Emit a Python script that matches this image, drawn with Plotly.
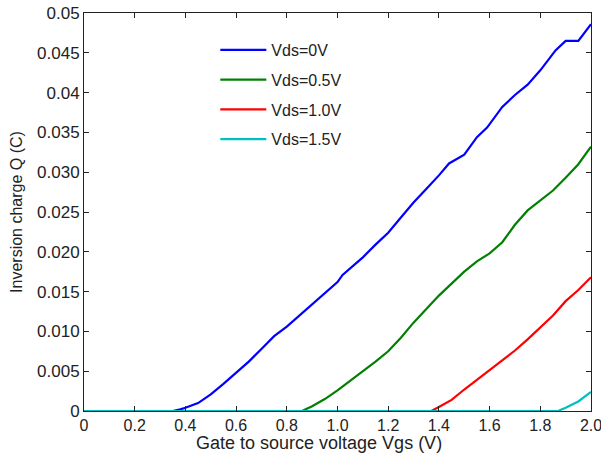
import plotly.graph_objects as go

# ---- data ----
x_blue = [0, 0.35, 0.38, 0.40, 0.45, 0.50, 0.55, 0.60, 0.65, 0.70, 0.75, 0.80, 0.85, 0.90, 0.95, 1.00,
          1.02, 1.05, 1.10, 1.15, 1.20, 1.25, 1.30, 1.35, 1.40, 1.44, 1.47, 1.50, 1.55, 1.59, 1.65,
          1.70, 1.75, 1.80, 1.86, 1.90, 1.95, 2.00]
q_blue = [0, 0, 0.0002, 0.0004, 0.0010, 0.0021, 0.0034, 0.0048, 0.0062, 0.0078, 0.0094, 0.0106, 0.0120,
          0.0133, 0.0147, 0.0162, 0.0171, 0.0179, 0.0193, 0.0209, 0.0224, 0.0243, 0.0262, 0.0279, 0.0296,
          0.0311, 0.0317, 0.0322, 0.0344, 0.0356, 0.0382, 0.0397, 0.0410, 0.0428, 0.0453, 0.0465, 0.0465,
          0.0486]

x_green = [0, 0.86, 0.90, 0.95, 1.00, 1.05, 1.10, 1.15, 1.20, 1.25, 1.30, 1.35, 1.40, 1.45, 1.50, 1.55,
           1.60, 1.65, 1.70, 1.75, 1.80, 1.85, 1.90, 1.95, 2.00]
q_green = [0, 0, 0.0006, 0.0015, 0.0026, 0.0038, 0.0049, 0.0062, 0.0075, 0.0092, 0.0111, 0.0128, 0.0145,
           0.0160, 0.0175, 0.0188, 0.0198, 0.0212, 0.0234, 0.0252, 0.0265, 0.0277, 0.0293, 0.0310, 0.0332]

x_red = [0, 1.37, 1.40, 1.45, 1.50, 1.55, 1.60, 1.65, 1.70, 1.75, 1.80, 1.85, 1.90, 1.95, 2.00]
q_red = [0, 0, 0.0005, 0.0014, 0.0027, 0.0039, 0.0051, 0.0063, 0.0076, 0.0090, 0.0105, 0.0120, 0.0138,
         0.0152, 0.0168]

x_cyan = [0, 1.87, 1.90, 1.95, 2.00]
q_cyan = [0, 0, 0.0004, 0.0012, 0.0024]

series = [
    ("Vds=0V", x_blue, q_blue, "#0000FF"),
    ("Vds=0.5V", x_green, q_green, "#008000"),
    ("Vds=1.0V", x_red, q_red, "#FF0000"),
    ("Vds=1.5V", x_cyan, q_cyan, "#00BFBF"),
]

x_ticks = [0, 0.2, 0.4, 0.6, 0.8, 1.0, 1.2, 1.4, 1.6, 1.8, 2.0]
x_ticktext = ["0", "0.2", "0.4", "0.6", "0.8", "1.0", "1.2", "1.4", "1.6", "1.8", "2.0"]
y_ticks = [0, 0.005, 0.010, 0.015, 0.020, 0.025, 0.030, 0.035, 0.04, 0.045, 0.05]
y_ticktext = ["0", "0.005", "0.010", "0.015", "0.020", "0.025", "0.030", "0.035", "0.04", "0.045", "0.05"]

x_title = "Gate to source voltage Vgs (V)"
y_title = "Inversion charge Q (C)"

FONT = "Liberation Sans, Arial, sans-serif"

fig = go.Figure()
for i, (name, xs, qs, col) in enumerate(series):
    fig.add_trace(go.Scatter(x=xs, y=qs, mode="lines", name=name,
                             line=dict(color=col, width=2.2),
                             legendgroup=str(i)))

axis_common = dict(
    showgrid=False, zeroline=False, showline=True, linecolor="#222222", linewidth=1,
    mirror="allticks", ticks="inside", ticklen=5, tickcolor="#222222", automargin=False,
    ticklabeloverflow="allow",
)

fig.update_layout(
    width=601, height=459,
    margin=dict(l=84, r=10, t=13, b=48),
    paper_bgcolor="white", plot_bgcolor="white",
    font=dict(family=FONT, color="#222222"),
    xaxis=dict(range=[0, 2.0], tickvals=x_ticks, ticktext=x_ticktext,
               tickfont=dict(family=FONT, size=16, color="#222222"),
               **axis_common),
    yaxis=dict(range=[0, 0.05], tickvals=y_ticks, ticktext=y_ticktext,
               tickfont=dict(family=FONT, size=17, color="#222222"),
               title=dict(text=y_title, font=dict(size=16), standoff=10),
               **axis_common),
    legend=dict(x=0.259, y=0.95, xanchor="left", yanchor="top",
                bgcolor="rgba(0,0,0,0)", borderwidth=0,
                font=dict(family=FONT, size=16, color="#222222"),
                tracegroupgap=6, itemwidth=46),
    showlegend=True,
    annotations=[dict(text=x_title, xref="paper", yref="paper",
                      x=(319 - 84) / 507, y=-(443 - 411) / 398,
                      xanchor="center", yanchor="middle", showarrow=False,
                      font=dict(family=FONT, size=18, color="#222222"))],
)

fig.write_html("out.html")
